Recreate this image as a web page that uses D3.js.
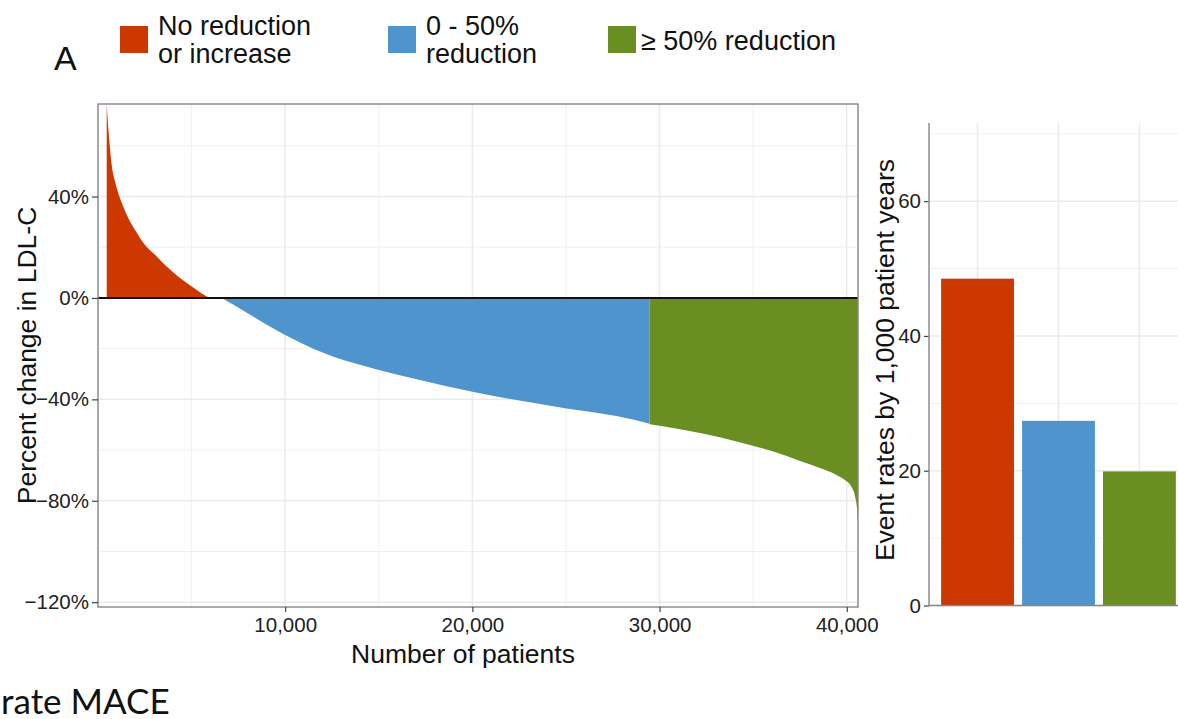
<!DOCTYPE html>
<html>
<head>
<meta charset="utf-8">
<script src="https://cdn.jsdelivr.net/npm/d3@7"></script>
<style>
  body { margin: 0; background: #fff; }
  svg { display: block; font-family: "Liberation Sans", Arial, sans-serif; }
</style>
</head>
<body>
<svg id="chart"></svg>
<script>
// ranked patients (x) and percent change in LDL-C (y), one array pair per group
const redN = [465, 550, 641, 730, 909, 1085, 1352, 1620, 1978, 2512, 3046, 3581, 4292, 5008, 5542, 5986];
const redPct = [76.4, 66.9, 59.0, 52.5, 45.9, 41.3, 36.0, 31.4, 26.8, 20.9, 17.0, 13.0, 8.4, 4.5, 1.8, 0];
const blueN = [6620, 7240, 8130, 9020, 10000, 11690, 13470, 15000, 17020, 20000, 22360, 25030, 27700, 29470];
const bluePct = [0, -2.7, -6.6, -10.6, -14.6, -20.6, -25.3, -28.4, -32.1, -37, -40.3, -43.6, -46.6, -49.6];
const greenN = [29470, 30710, 32490, 34270, 36040, 37470, 38710, 39400, 39900, 40250, 40450, 40560, 40600];
const greenPct = [-49.8, -51.3, -53.8, -56.9, -60.5, -64.2, -67.5, -69.6, -71.8, -74.5, -78.5, -84, -89];

const groups = ["No reduction or increase", "0 - 50% reduction", "\u2265 50% reduction"];
const groupColors = ["#CD3700", "#4F94CD", "#6B8E23"];
const eventRates = [48.5, 27.4, 19.9];

const xTicks = [10000, 20000, 30000, 40000];
const xMinor = [5000, 15000, 25000, 35000];
const yTicks = [40, 0, -40, -80, -120];
const yMinor = [60, 20, -20, -60, -100];
const barTicks = [0, 20, 40, 60];
const barMinor = [10, 30, 50, 70];

const width = 1178;
const height = 719;
const svg = d3.select("#chart").attr("width", width).attr("height", height);

const gridColor = "#ebebeb";
const borderColor = "#858585";
const tickFont = 20.5;

// ---- left panel: waterfall of LDL-C change ----
const panel = { left: 98, right: 858, top: 104, bottom: 607 };
const x = d3.scaleLinear().domain([0, 40600]).range([panel.left, panel.right]);
const y = d3.scaleLinear().domain([-121.9, 76.5]).range([panel.bottom, panel.top]);

const main = svg.append("g");

main.selectAll(".gminor-x")
  .data(xMinor)
  .join("line")
  .attr("x1", (d) => x(d)).attr("x2", (d) => x(d))
  .attr("y1", panel.top).attr("y2", panel.bottom)
  .attr("stroke", gridColor).attr("stroke-width", 0.8);

main.selectAll(".gminor-y")
  .data(yMinor)
  .join("line")
  .attr("x1", panel.left).attr("x2", panel.right)
  .attr("y1", (d) => y(d)).attr("y2", (d) => y(d))
  .attr("stroke", gridColor).attr("stroke-width", 0.8);

main.selectAll(".gmajor-x")
  .data(xTicks)
  .join("line")
  .attr("x1", (d) => x(d)).attr("x2", (d) => x(d))
  .attr("y1", panel.top).attr("y2", panel.bottom)
  .attr("stroke", gridColor).attr("stroke-width", 1.5);

main.selectAll(".gmajor-y")
  .data(yTicks)
  .join("line")
  .attr("x1", panel.left).attr("x2", panel.right)
  .attr("y1", (d) => y(d)).attr("y2", (d) => y(d))
  .attr("stroke", gridColor).attr("stroke-width", 1.5);

svg.append("clipPath").attr("id", "clip")
  .append("rect")
  .attr("x", panel.left).attr("y", panel.top)
  .attr("width", panel.right - panel.left).attr("height", panel.bottom - panel.top);

const area = d3.area()
  .x((d) => x(d[0]))
  .y0(y(0))
  .y1((d) => y(d[1]))
  .curve(d3.curveMonotoneX);

const series = [
  d3.zip(redN, redPct),
  d3.zip(blueN, bluePct),
  d3.zip(greenN, greenPct),
];

main.append("g").attr("clip-path", "url(#clip)")
  .selectAll("path")
  .data(series)
  .join("path")
  .attr("d", area)
  .attr("fill", (d, i) => groupColors[i]);

// zero line
main.append("line")
  .attr("x1", panel.left).attr("x2", panel.right)
  .attr("y1", y(0)).attr("y2", y(0))
  .attr("stroke", "#111").attr("stroke-width", 2);

main.append("rect")
  .attr("x", panel.left).attr("y", panel.top)
  .attr("width", panel.right - panel.left).attr("height", panel.bottom - panel.top)
  .attr("fill", "none").attr("stroke", borderColor).attr("stroke-width", 1.4);

const yAxis = main.append("g")
  .attr("transform", `translate(${panel.left},0)`)
  .call(d3.axisLeft(y).tickValues(yTicks).tickSize(6).tickPadding(3)
    .tickFormat((d) => d3.format("d")(d) + "%"));

const xAxis = main.append("g")
  .attr("transform", `translate(0,${panel.bottom})`)
  .call(d3.axisBottom(x).tickValues(xTicks).tickSize(5).tickPadding(5)
    .tickFormat(d3.format(",")));

[yAxis, xAxis].forEach((ax) => {
  ax.select(".domain").remove();
  ax.selectAll(".tick line").attr("stroke", "#444").attr("stroke-width", 1.2);
  ax.selectAll(".tick text")
    .attr("font-family", "Liberation Sans, Arial, sans-serif")
    .attr("font-size", tickFont).attr("fill", "#222");
});

main.append("text")
  .attr("transform", `translate(36,${(panel.top + panel.bottom) / 2}) rotate(-90)`)
  .attr("text-anchor", "middle")
  .attr("font-size", 26.5)
  .attr("fill", "#111")
  .text("Percent change in LDL-C");

main.append("text")
  .attr("x", 463).attr("y", 663)
  .attr("text-anchor", "middle")
  .attr("font-size", 26.5)
  .attr("fill", "#111")
  .text("Number of patients");

// ---- right panel: event rates ----
const bp = { left: 929, right: 1188, top: 123, bottom: 605.5 };
const xb = d3.scaleBand().domain(groups).range([bp.left, bp.right])
  .paddingInner(0.1).paddingOuter(0.15);
const yb = d3.scaleLinear().domain([0, 71.6]).range([bp.bottom, bp.top]);

const bars = svg.append("g");

bars.selectAll(".bminor")
  .data(barMinor)
  .join("line")
  .attr("x1", bp.left).attr("x2", bp.right)
  .attr("y1", (d) => yb(d)).attr("y2", (d) => yb(d))
  .attr("stroke", gridColor).attr("stroke-width", 0.8);

bars.selectAll(".bmajor")
  .data(barTicks)
  .join("line")
  .attr("x1", bp.left).attr("x2", bp.right)
  .attr("y1", (d) => yb(d)).attr("y2", (d) => yb(d))
  .attr("stroke", gridColor).attr("stroke-width", 1.5);

bars.selectAll(".bvert")
  .data(groups)
  .join("line")
  .attr("x1", (d) => xb(d) + xb.bandwidth() / 2)
  .attr("x2", (d) => xb(d) + xb.bandwidth() / 2)
  .attr("y1", bp.top).attr("y2", bp.bottom)
  .attr("stroke", gridColor).attr("stroke-width", 1.5);

bars.selectAll("rect")
  .data(groups)
  .join("rect")
  .attr("x", (d) => xb(d))
  .attr("y", (d, i) => yb(eventRates[i]))
  .attr("width", xb.bandwidth())
  .attr("height", (d, i) => yb(0) - yb(eventRates[i]))
  .attr("fill", (d, i) => groupColors[i]);

const ybAxis = bars.append("g")
  .attr("transform", `translate(${bp.left},0)`)
  .call(d3.axisLeft(yb).tickValues(barTicks).tickSize(5).tickPadding(3));
ybAxis.select(".domain").remove();
ybAxis.selectAll(".tick line").attr("stroke", "#444").attr("stroke-width", 1.2);
ybAxis.selectAll(".tick text")
  .attr("font-family", "Liberation Sans, Arial, sans-serif")
  .attr("font-size", tickFont).attr("fill", "#222");

bars.append("line")
  .attr("x1", bp.left).attr("x2", bp.left)
  .attr("y1", bp.top).attr("y2", bp.bottom)
  .attr("stroke", borderColor).attr("stroke-width", 1.4);
bars.append("line")
  .attr("x1", bp.left).attr("x2", bp.right)
  .attr("y1", bp.bottom).attr("y2", bp.bottom)
  .attr("stroke", borderColor).attr("stroke-width", 1.4);

bars.append("text")
  .attr("transform", `translate(894,360) rotate(-90)`)
  .attr("text-anchor", "middle")
  .attr("font-size", 26.5)
  .attr("fill", "#111")
  .text("Event rates by 1,000 patient years");

// ---- legend and labels ----
const legendX = [120, 388, 608];
const legendLines = [["No reduction", "or increase"], ["0 - 50%", "reduction"], ["\u2265 50% reduction"]];

const legend = svg.append("g");
legend.selectAll("rect")
  .data(groups)
  .join("rect")
  .attr("x", (d, i) => legendX[i])
  .attr("y", 26)
  .attr("width", 28).attr("height", 27)
  .attr("fill", (d, i) => groupColors[i]);

legend.selectAll("text")
  .data(legendLines)
  .join("text")
  .attr("x", (d, i) => legendX[i] + (i === 2 ? 33 : 38))
  .attr("y", (d) => (d.length === 2 ? 35 : 50))
  .attr("font-size", 27)
  .attr("fill", "#111")
  .selectAll("tspan")
  .data((d) => d)
  .join("tspan")
  .attr("x", function () { return d3.select(this.parentNode).attr("x"); })
  .attr("dy", (d, i) => (i === 0 ? 0 : 28))
  .text((d) => d);

svg.append("text")
  .attr("x", 54).attr("y", 70)
  .attr("font-size", 34)
  .attr("fill", "#111")
  .text("A");

svg.append("text")
  .attr("x", 1).attr("y", 714)
  .attr("font-family", "Lato, 'Open Sans', sans-serif")
  .attr("font-size", 35)
  .attr("fill", "#111")
  .text("rate MACE");
</script>
</body>
</html>
